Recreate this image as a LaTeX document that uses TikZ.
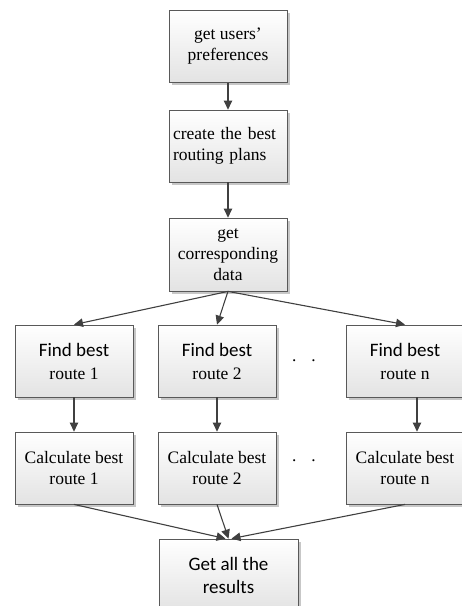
\documentclass[tikz,border=0pt]{standalone}
\usepackage{fontspec}
\setmainfont{Liberation Serif}
\newfontfamily\calibri{Carlito}
\usetikzlibrary{arrows.meta}
\usetikzlibrary{shadows}

\tikzset{
	box/.style={draw=black!65, line width=0.8pt, top color=white, bottom color=black!11,
		drop shadow={shadow xshift=2.5pt, shadow yshift=-2.5pt, fill=black!22, opacity=1},
		minimum width=118pt, minimum height=72pt, inner sep=4pt, align=center,
		font=\fontsize{17.5}{21}\selectfont},
	link/.style={draw=black!75, line width=1.1pt, -{Triangle[length=9pt,width=8.5pt]}},
	findfont/.style={font=\calibri\fontsize{19}{23}\selectfont},
}

\begin{document}
\begin{tikzpicture}[x=1pt,y=-1pt]
	\useasboundingbox (0,0) rectangle (462,606);
	\node[box] (pref) at (228,46.5) {get users'\\preferences};
	\node[box, text width=110pt, align=left] (plans) at (228,146) {create the best\\routing plans};
	\node[box, minimum height=73pt] (data) at (228,254.5) {get\\corresponding\\data};
	\foreach \i/\x in {1/74,2/217,n/405} {
		\node[box] (find\i) at (\x,361) {{\calibri\fontsize{19}{23}\selectfont Find best}\\[2pt]route \i};
		\node[box] (calc\i) at (\x,468) {Calculate best\\route \i};
	}
	\node (dots1) at (304,363) {\fontsize{17.5}{21}\selectfont\textperiodcentered\hspace{13.5pt}\textperiodcentered};
	\node (dots2) at (304,463) {\fontsize{17.5}{21}\selectfont\textperiodcentered\hspace{13.5pt}\textperiodcentered};
	\node[box, findfont, minimum width=139pt] (res) at (228.5,575) {Get all the\\results};
	\draw[link] (pref) -- (plans);
	\draw[link] (plans) -- (data);
	\draw[link] (data.south) -- (find1.north);
	\draw[link] (data.south) -- (find2.north);
	\draw[link] (data.south) -- (findn.north);
	\draw[link] (find1) -- (calc1);
	\draw[link] (find2) -- (calc2);
	\draw[link] ([xshift=12pt]findn.south) -- ([xshift=12pt]calcn.north);
	\draw[link] (calc1.south) -- ([xshift=-3pt]res.north);
	\draw[link] (calc2.south) -- (res.north);
	\draw[link] (calcn.south) -- ([xshift=3pt]res.north);
\end{tikzpicture}
\end{document}
